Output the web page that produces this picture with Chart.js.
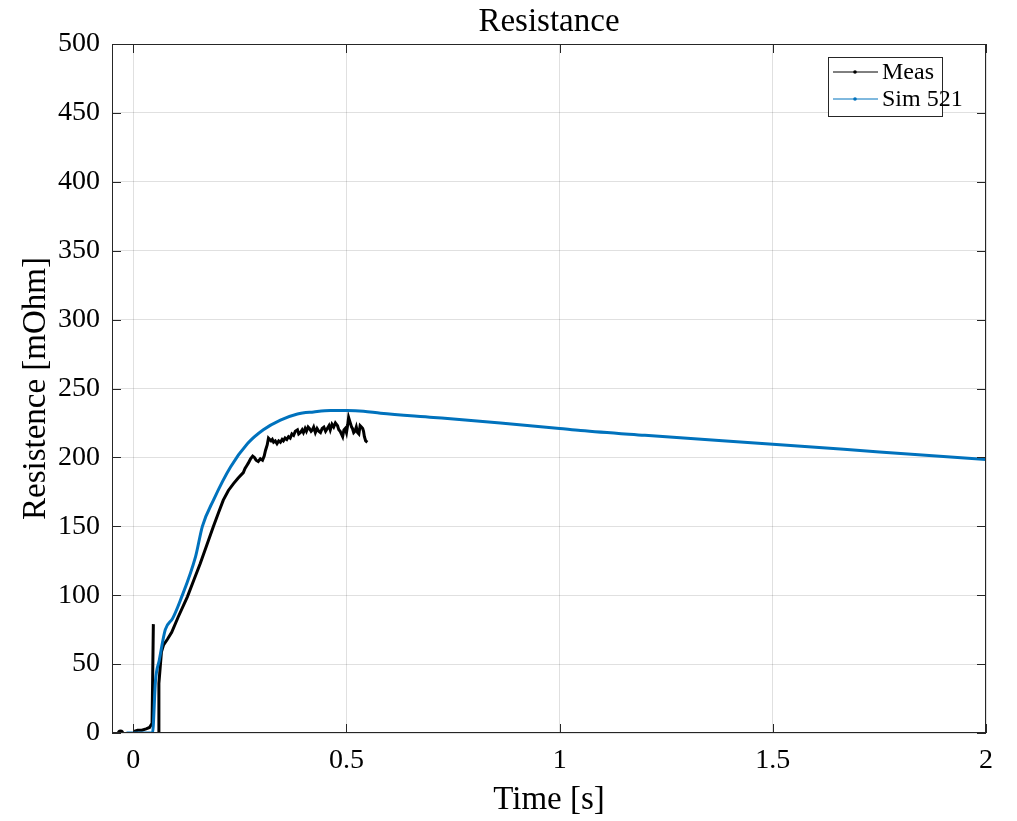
<!DOCTYPE html>
<html>
<head>
<meta charset="utf-8">
<script src="https://cdn.jsdelivr.net/npm/chart.js@4.4.1/dist/chart.umd.min.js"></script>
<style>
  body { margin: 0; background: #fff; }
  canvas { display: block; }
</style>
</head>
<body>
<canvas id="c" width="1017" height="821"></canvas>
<script>
// measured curve (black), null = gap in the trace
const measT = [-0.03, null, 0.0, 0.01, 0.02, 0.03, 0.038, 0.044, 0.047, null,
  0.058, 0.060, 0.066, 0.071, 0.08, 0.09, 0.105, 0.127, 0.142, 0.157, 0.172, 0.188, 0.2, 0.211,
  0.223, 0.235, 0.246, 0.258, 0.262, 0.266, 0.270, 0.275, 0.280, 0.284, 0.288, 0.293, 0.298,
  0.303, 0.307, 0.31, 0.314, 0.317, 0.320, 0.323, 0.326, 0.329, 0.333, 0.337, 0.341, 0.345,
  0.349, 0.352, 0.356, 0.36, 0.364, 0.368, 0.372, 0.376, 0.380, 0.385, 0.388, 0.392, 0.396,
  0.399, 0.403, 0.406, 0.410, 0.413, 0.417, 0.420, 0.423, 0.427, 0.431, 0.435, 0.439, 0.443,
  0.447, 0.451, 0.455, 0.459, 0.462, 0.466, 0.47, 0.474, 0.479, 0.482, 0.485, 0.488, 0.491,
  0.494, 0.497, 0.500, 0.503, 0.505, 0.508, 0.51, 0.512, 0.514, 0.517, 0.52, 0.523, 0.526,
  0.529, 0.532, 0.535, 0.538, 0.540, 0.542, 0.545, 0.549];
const measR = [0, null, 1, 2, 2, 3, 4, 7, 79, null,
  0, 36, 59, 64, 68, 73, 84, 99, 111, 123, 136, 150, 160, 169,
  176, 181, 185, 189, 192, 194, 196, 199, 201, 200, 198, 197, 199,
  198, 201, 205, 209, 214, 213, 212, 213, 211, 212, 210, 212, 211,
  213, 212, 214, 213, 215, 214, 217, 216, 219, 220, 217, 218, 220,
  218, 221, 219, 222, 221, 219, 220, 222, 218, 221, 219, 218, 221,
  222, 219, 221, 223, 220, 224, 222, 225, 223, 220, 219, 217, 215,
  220, 221, 218, 224, 229, 226, 224, 222, 221, 218, 219, 222, 218,
  217, 223, 222, 221, 219, 215, 212, 211];

// simulation (blue)
const simT = [-0.016, 0.045, 0.052, 0.061, 0.075, 0.092, 0.110, 0.146, 0.162, 0.188, 0.228,
  0.268, 0.305, 0.345, 0.385, 0.423, 0.462, 0.502, 0.54, 0.58, 0.704, 0.861, 1.0, 1.049,
  1.2, 1.5, 1.75, 2.0];
const simR = [0, 0, 38, 53, 75, 83, 96, 128, 150, 169, 193,
  210, 220, 227, 231.5, 233, 234, 234, 233.5, 232, 229, 225, 221, 219.5,
  216, 209.5, 204, 198.5];

const xTicks = [0, 0.5, 1, 1.5, 2];
const yTicks = [0, 50, 100, 150, 200, 250, 300, 350, 400, 450, 500];

const AX = '#262626';
const serif = '"Liberation Serif", "Times New Roman", serif';

function pts(t, r) {
  return t.map((v, i) => v === null ? { x: null, y: null } : { x: v, y: r[i] });
}

const boxPlugin = {
  id: 'box',
  afterDraw(chart) {
    const { ctx, chartArea: a, scales } = chart;
    ctx.save();
    ctx.strokeStyle = AX;
    ctx.lineWidth = 1;
    ctx.strokeRect(a.left + 0.5, a.top + 0.5, a.right - a.left - 1, a.bottom - a.top - 1);
    const tl = 9;
    ctx.beginPath();
    xTicks.forEach(v => {
      const x = Math.round(scales.x.getPixelForValue(v)) + 0.5;
      ctx.moveTo(x, a.bottom); ctx.lineTo(x, a.bottom - tl);
      ctx.moveTo(x, a.top); ctx.lineTo(x, a.top + tl);
    });
    yTicks.forEach(v => {
      const y = Math.round(scales.y.getPixelForValue(v)) + 0.5;
      ctx.moveTo(a.left, y); ctx.lineTo(a.left + tl, y);
      ctx.moveTo(a.right, y); ctx.lineTo(a.right - tl, y);
    });
    ctx.stroke();

    // title
    ctx.fillStyle = '#000';
    ctx.font = '33px ' + serif;
    ctx.textAlign = 'center';
    ctx.textBaseline = 'middle';
    ctx.fillText('Resistance', (a.left + a.right) / 2, 22);

    // legend, top right inside the axes
    const bx = 828, by = 57, bw = 114, bh = 59;
    ctx.fillStyle = '#fff';
    ctx.fillRect(bx, by, bw, bh);
    ctx.strokeStyle = AX;
    ctx.strokeRect(bx + 0.5, by + 0.5, bw, bh);
    ctx.font = '24px ' + serif;
    ctx.textAlign = 'left';
    chart.data.datasets.forEach((d, i) => {
      const y = by + 15 + i * 27;
      ctx.strokeStyle = d.borderColor;
      ctx.lineWidth = 1;
      ctx.beginPath();
      ctx.moveTo(bx + 5, y); ctx.lineTo(bx + 50, y);
      ctx.stroke();
      ctx.fillStyle = d.borderColor;
      ctx.beginPath();
      ctx.arc(bx + 27, y, 1.8, 0, Math.PI * 2);
      ctx.fill();
      ctx.fillStyle = '#000';
      ctx.fillText(d.label, bx + 54, y + 1);
    });
    ctx.restore();
  }
};

new Chart(document.getElementById('c'), {
  type: 'scatter',
  data: {
    datasets: [
      {
        label: 'Meas', data: pts(measT, measR), showLine: true, spanGaps: false,
        borderColor: '#000000', backgroundColor: '#000000', borderWidth: 3,
        pointRadius: ctx => ctx.dataIndex === 0 ? 2 : 0, order: 2
      },
      {
        label: 'Sim 521', data: pts(simT, simR), showLine: true,
        borderColor: '#0072BD', backgroundColor: '#0072BD', borderWidth: 3,
        pointRadius: 0, cubicInterpolationMode: 'monotone', order: 1
      }
    ]
  },
  options: {
    responsive: false,
    animation: false,
    layout: { padding: { left: 0, right: 31, top: 44, bottom: 0 } },
    plugins: { legend: { display: false }, tooltip: { enabled: false } },
    scales: {
      x: {
        type: 'linear', min: -0.05, max: 2,
        afterBuildTicks: s => { s.ticks = xTicks.map(v => ({ value: v })); },
        afterFit: s => { s.height = 88; },
        grid: { color: 'rgba(0,0,0,0.12)', drawTicks: false },
        border: { display: false },
        ticks: { color: '#000', padding: 11, font: { family: serif, size: 28 },
          callback: v => String(v) },
        title: { display: true, text: 'Time [s]', color: '#000', padding: { top: 0, bottom: 1 },
          font: { family: serif, size: 33 } }
      },
      y: {
        type: 'linear', min: 0, max: 500,
        afterBuildTicks: s => { s.ticks = yTicks.map(v => ({ value: v })); },
        afterFit: s => { s.width = 112; },
        grid: { color: 'rgba(0,0,0,0.12)', drawTicks: false },
        border: { display: false },
        ticks: { color: '#000', padding: 12, font: { family: serif, size: 28 },
          callback: v => String(v) },
        title: { display: true, text: 'Resistence [mOhm]', color: '#000', padding: { top: 17, bottom: 0 },
          font: { family: serif, size: 33 } }
      }
    }
  },
  plugins: [boxPlugin]
});
</script>
</body>
</html>
